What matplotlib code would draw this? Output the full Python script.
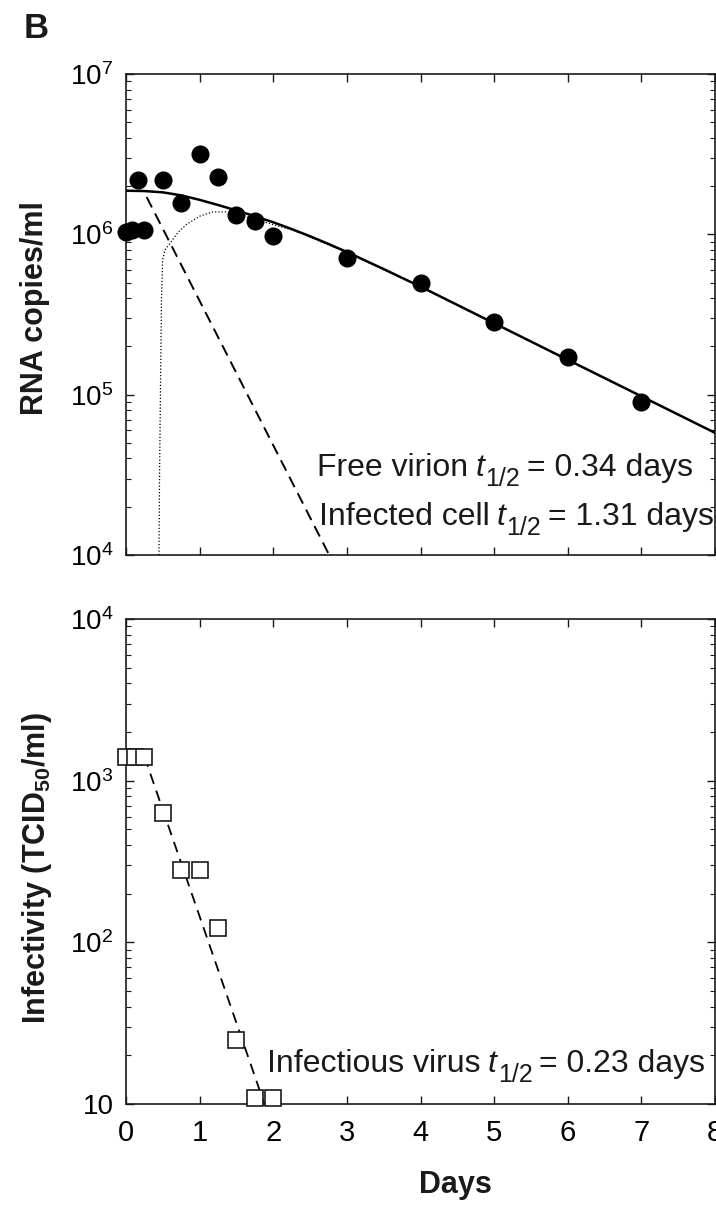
import matplotlib
matplotlib.use('Agg')
import matplotlib.pyplot as plt
from matplotlib.ticker import FixedLocator, FixedFormatter, LogLocator, NullFormatter
from matplotlib.transforms import offset_copy

plt.rcParams['font.family'] = ['Liberation Sans', 'DejaVu Sans']
plt.rcParams['mathtext.fontset'] = 'custom'
plt.rcParams['mathtext.rm'] = 'Liberation Sans'
plt.rcParams['mathtext.it'] = 'Liberation Sans:italic'
plt.rcParams['mathtext.bf'] = 'Liberation Sans:bold'

# ---------------- data ----------------
# Panel 1: plasma HIV-1 RNA
rna_days = [0, 0.083, 0.167, 0.25, 0.5, 0.75, 1.0, 1.25, 1.5, 1.75, 2.0, 3, 4, 5, 6, 7]
rna_copies = [1.03e6, 1.06e6, 2.18e6, 1.06e6, 2.18e6, 1.57e6, 3.16e6, 2.27e6,
              1.32e6, 1.21e6, 9.8e5, 7.1e5, 5.0e5, 2.84e5, 1.72e5, 9.0e4]

# total model fit (solid)
fit_days = [0, 0.25, 0.5, 0.75, 1.0, 1.25, 1.5, 1.75, 2.0, 2.25, 2.5, 2.75, 3,
            3.5, 4, 5, 6, 7, 8]
fit_copies = [1.871e6, 1.862e6, 1.828e6, 1.750e6, 1.641e6, 1.524e6, 1.409e6, 1.297e6,
              1.189e6, 1.079e6, 9.73e5, 8.71e5, 7.76e5, 6.07e5, 4.72e5, 2.79e5,
              1.65e5, 9.77e4, 5.78e4]

# free virion component (dashed)
virion_days = [0.28, 2.76]
virion_copies = [1.71e6, 1.0e4]

# infected cell component (dotted)
cell_days = [0.448, 0.455, 0.471, 0.482, 0.497, 0.53, 0.598, 0.707, 0.829, 1.005,
             1.18, 1.37, 1.55, 1.78, 2.0, 2.27, 2.5, 3, 4, 5, 6, 7, 8]
cell_copies = [1.0e4, 2.9e4, 1.42e5, 3.9e5, 6.9e5, 8.0e5, 8.8e5, 1.03e6, 1.16e6, 1.30e6,
               1.38e6, 1.38e6, 1.32e6, 1.23e6, 1.15e6, 1.06e6, 9.6e5, 7.7e5, 4.7e5,
               2.78e5, 1.64e5, 9.75e4, 5.77e4]

# Panel 2: infectivity
inf_days = [0, 0.125, 0.25, 0.5, 0.75, 1.0, 1.25, 1.5, 1.75, 2.0]
inf_titer = [1.4e3, 1.4e3, 1.4e3, 630, 280, 280, 123, 25, 10.9, 10.9]
inf_fit_days = [0.25, 1.88]
inf_fit_titer = [1.41e3, 10]

x_ticks = [0, 1, 2, 3, 4, 5, 6, 7, 8]
x_ticklabels = ['0', '1', '2', '3', '4', '5', '6', '7', '8']
y1_ticks = [1e4, 1e5, 1e6, 1e7]
y1_ticklabels = ['$10^4$', '$10^5$', '$10^6$', '$10^7$']
y2_ticks = [1e1, 1e2, 1e3, 1e4]
y2_ticklabels = ['10', '$10^2$', '$10^3$', '$10^4$']

# half-life annotations: (name, value text)
label_free = ('Free virion', '= 0.34 days')
label_cell = ('Infected cell', '= 1.31 days')
label_inf = ('Infectious virus', '= 0.23 days')

# ---------------- figure ----------------
W, H = 716, 1205
fig = plt.figure(figsize=(W / 100, H / 100), dpi=100)
ax1 = fig.add_axes([126 / W, 1 - 555 / H, 589 / W, 481 / H])
ax2 = fig.add_axes([126 / W, 1 - 1104 / H, 589 / W, 485 / H])

ink = '#1a1a1a'

for ax in (ax1, ax2):
    ax.set_yscale('log')
    ax.set_xlim(0, 8)
    ax.xaxis.set_major_locator(FixedLocator(x_ticks))
    ax.yaxis.set_minor_locator(LogLocator(base=10, subs=range(2, 10)))
    ax.yaxis.set_minor_formatter(NullFormatter())
    ax.tick_params(which='both', direction='in', top=True, right=True, color=ink)
    ax.tick_params(which='major', length=6, width=1.0, labelsize=20, pad=9)
    ax.tick_params(which='minor', length=3.5, width=0.8)
    for sp in ax.spines.values():
        sp.set_linewidth(1.2)
        sp.set_color(ink)

renderer = fig.canvas.get_renderer()


def half_life_label(ax, x, y, name, value, fs=23, sub_fs=18):
    """Name, italic t, lowered '1/2', then value, chained left to right."""
    pieces = [(name, fs, 'normal', 0, 0),
              ('t', fs, 'italic', 0, 7),
              ('1/2', sub_fs, 'normal', 10, 1),
              (value, fs, 'normal', 0, 7)]
    dx = 0.0
    for s, size, style, drop, gap in pieces:
        dx += gap
        tr = offset_copy(ax.transData, fig=fig, x=dx, y=-drop, units='dots')
        t = ax.text(x, y, s, fontsize=size, style=style, transform=tr,
                    ha='left', va='baseline', color=ink, zorder=5)
        dx += t.get_window_extent(renderer).width


# panel 1
ax1.set_ylim(1e4, 1e7)
ax1.yaxis.set_major_locator(FixedLocator(y1_ticks))
ax1.yaxis.set_major_formatter(FixedFormatter(y1_ticklabels))
ax1.set_xticklabels([])
ax1.plot(fit_days, fit_copies, '-', color='black', lw=1.8, zorder=3)
ax1.plot(virion_days, virion_copies, color='black', lw=1.4, linestyle=(0, (6, 3.5)), zorder=3)
ax1.plot(cell_days, cell_copies, color='black', lw=0.9, linestyle=(0, (1, 1.6)), zorder=2)
ax1.plot(rna_days, rna_copies, 'o', color='black', ms=12, zorder=4, clip_on=False)
half_life_label(ax1, 2.60, 10 ** 4.49, *label_free)
half_life_label(ax1, 2.62, 10 ** 4.186, *label_cell)

# panel 2
ax2.set_ylim(1e1, 1e4)
ax2.yaxis.set_major_locator(FixedLocator(y2_ticks))
ax2.yaxis.set_major_formatter(FixedFormatter(y2_ticklabels))
ax2.set_xticklabels(x_ticklabels)
ax2.tick_params(axis='x', which='major', pad=11, labelsize=21)
ax2.plot(inf_fit_days, inf_fit_titer, color='black', lw=1.3, linestyle=(0, (6, 4)), zorder=3)
ax2.plot(inf_days, inf_titer, 's', mfc='white', mec=ink, mew=1.2, ms=11, zorder=4, clip_on=False)
half_life_label(ax2, 1.92, 10 ** 1.198, *label_inf)

# labels
fig.text(35 / W, 1 - 308 / H, 'RNA copies/ml', rotation=90, fontsize=22,
         fontweight='bold', ha='center', va='center', color=ink)
fig.text(37 / W, 1 - 868 / H, r'Infectivity (TCID$_{\mathbf{50}}$/ml)', rotation=90, fontsize=22,
         fontweight='bold', ha='center', va='center', color=ink)
fig.text(455 / W, 1 - 1185 / H, 'Days', fontsize=22, fontweight='bold',
         ha='center', va='center', color=ink)
fig.text(24 / W, 1 - 29 / H, 'B', fontsize=25, fontweight='bold',
         ha='left', va='center', color=ink)

fig.savefig('out.png', dpi=100)
